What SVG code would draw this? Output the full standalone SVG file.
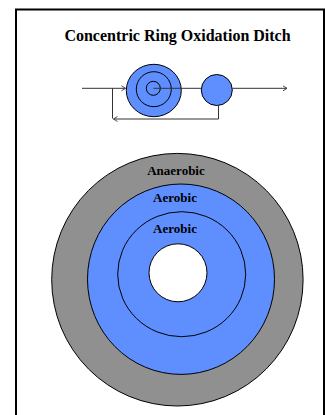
<svg xmlns="http://www.w3.org/2000/svg" width="325" height="415" viewBox="0 0 325 415">
<style>
.t{font-family:"Liberation Serif","Times New Roman",serif;font-weight:bold;fill:#000;text-anchor:middle}
.b{fill:#5f8fff;stroke:#000;stroke-width:1}
.c{stroke:#333;stroke-width:1;fill:none}
</style>
<defs>
<marker id="ah" markerWidth="8" markerHeight="8" refX="6" refY="4" orient="auto" markerUnits="userSpaceOnUse">
<polyline points="2,1.5 6,4 2,6.5" fill="none" stroke="#333" stroke-width="0.9"/>
</marker>
</defs>
<rect width="325" height="415" fill="#fff"/>
<rect x="16" y="9.5" width="308" height="420" fill="none" stroke="#000" stroke-width="2"/>
<text class="t" x="177.5" y="41" font-size="16">Concentric Ring Oxidation Ditch</text>
<g id="ditch">
<ellipse class="b" cx="153.8" cy="90.5" rx="27.5" ry="26.2"/>
<ellipse cx="153.8" cy="89.2" rx="17.5" ry="17.5" fill="none" stroke="#000"/>
<circle cx="153.3" cy="88.3" r="7" fill="none" stroke="#000"/>
</g>
<g id="clarifier">
<circle class="b" cx="216.8" cy="90" r="15.5"/>
</g>
<g id="connectors">
<line class="c" x1="82" y1="88.3" x2="125.5" y2="88.3" marker-end="url(#ah)"/>
<line class="c" x1="153.5" y1="88.3" x2="201.3" y2="88.3"/>
<line class="c" x1="232.3" y1="88.3" x2="287" y2="88.3" marker-end="url(#ah)"/>
<polyline class="c" points="218.5,105.5 218.5,119 113.5,119" marker-end="url(#ah)"/>
<line class="c" x1="112.5" y1="88.3" x2="112.5" y2="118.5"/>
</g>
<g id="rings">
<ellipse cx="177.4" cy="279.7" rx="125.7" ry="126.3" fill="#909090" stroke="#000"/>
<ellipse class="b" cx="181" cy="279.2" rx="93.5" ry="95.2"/>
<ellipse cx="181.7" cy="274.2" rx="64" ry="62.5" fill="none" stroke="#000"/>
<circle cx="178" cy="272.8" r="29" fill="#fff" stroke="#000"/>
</g>
<text class="t" x="176" y="174.5" font-size="13">Anaerobic</text>
<text class="t" x="175" y="201.5" font-size="13">Aerobic</text>
<text class="t" x="175" y="232.5" font-size="13">Aerobic</text>
</svg>
